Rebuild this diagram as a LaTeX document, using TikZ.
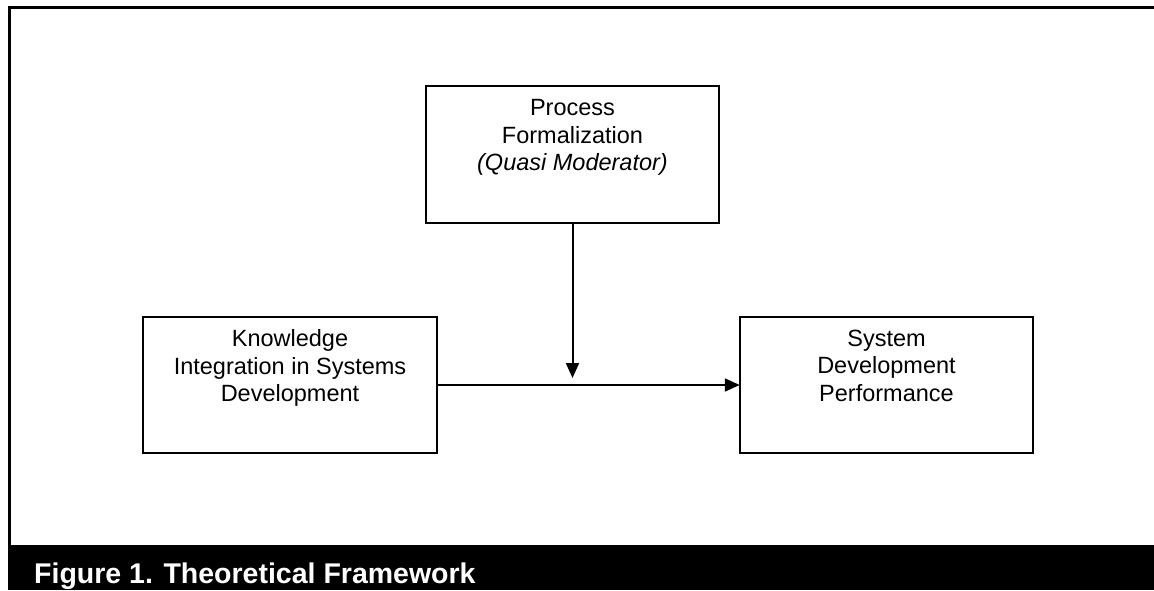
\documentclass[tikz,border=0pt]{standalone}
\usepackage{fontspec}
\setmainfont{Liberation Sans}
\usetikzlibrary{positioning,arrows.meta}

\begin{document}
\begin{tikzpicture}[x=1pt, y=-1pt,
    box/.style={draw, line width=2pt, inner sep=0pt, outer sep=0pt,
      minimum width=293.5pt, minimum height=136.5pt},
    boxtext/.style={align=center, inner sep=0pt, font=\fontsize{23.5}{27.5}\selectfont},
    >={Triangle[length=15pt, width=13pt]}]
  \useasboundingbox (0,0) rectangle (1154,590);
  % frame and caption bar
  \draw[line width=3pt] (1154,7) -- (9,7) -- (9,546);
  \fill (7.5,545) rectangle (1154,590);
  \node[anchor=base west, inner sep=0pt, text=white,
    font=\bfseries\fontsize{28.5}{33}\selectfont] (caption) at (34,583) {Figure 1. Theoretical Framework};
  % boxes
  \node[box] (pf) at (572.5,154.5) {};
  \node[box] (kis) at (290,385) {};
  \node[box] (sdp) at (886.5,385) {};
  \node[boxtext, below=13pt of pf.north] (pftext) {Process\\Formalization\\\textit{(Quasi Moderator)}};
  \node[boxtext, below=13pt of kis.north] (kistext) {Knowledge\\Integration in Systems\\Development};
  \node[boxtext, below=13pt of sdp.north] (sdptext) {System\\Development\\Performance};
  % arrows
  \coordinate (mod) at ([yshift=7pt]pf.south |- kis.east);
  \draw[->, line width=2pt] (kis.east) -- (sdp.west);
  \draw[->, line width=2pt] (pf.south) -- (mod);
\end{tikzpicture}
\end{document}
